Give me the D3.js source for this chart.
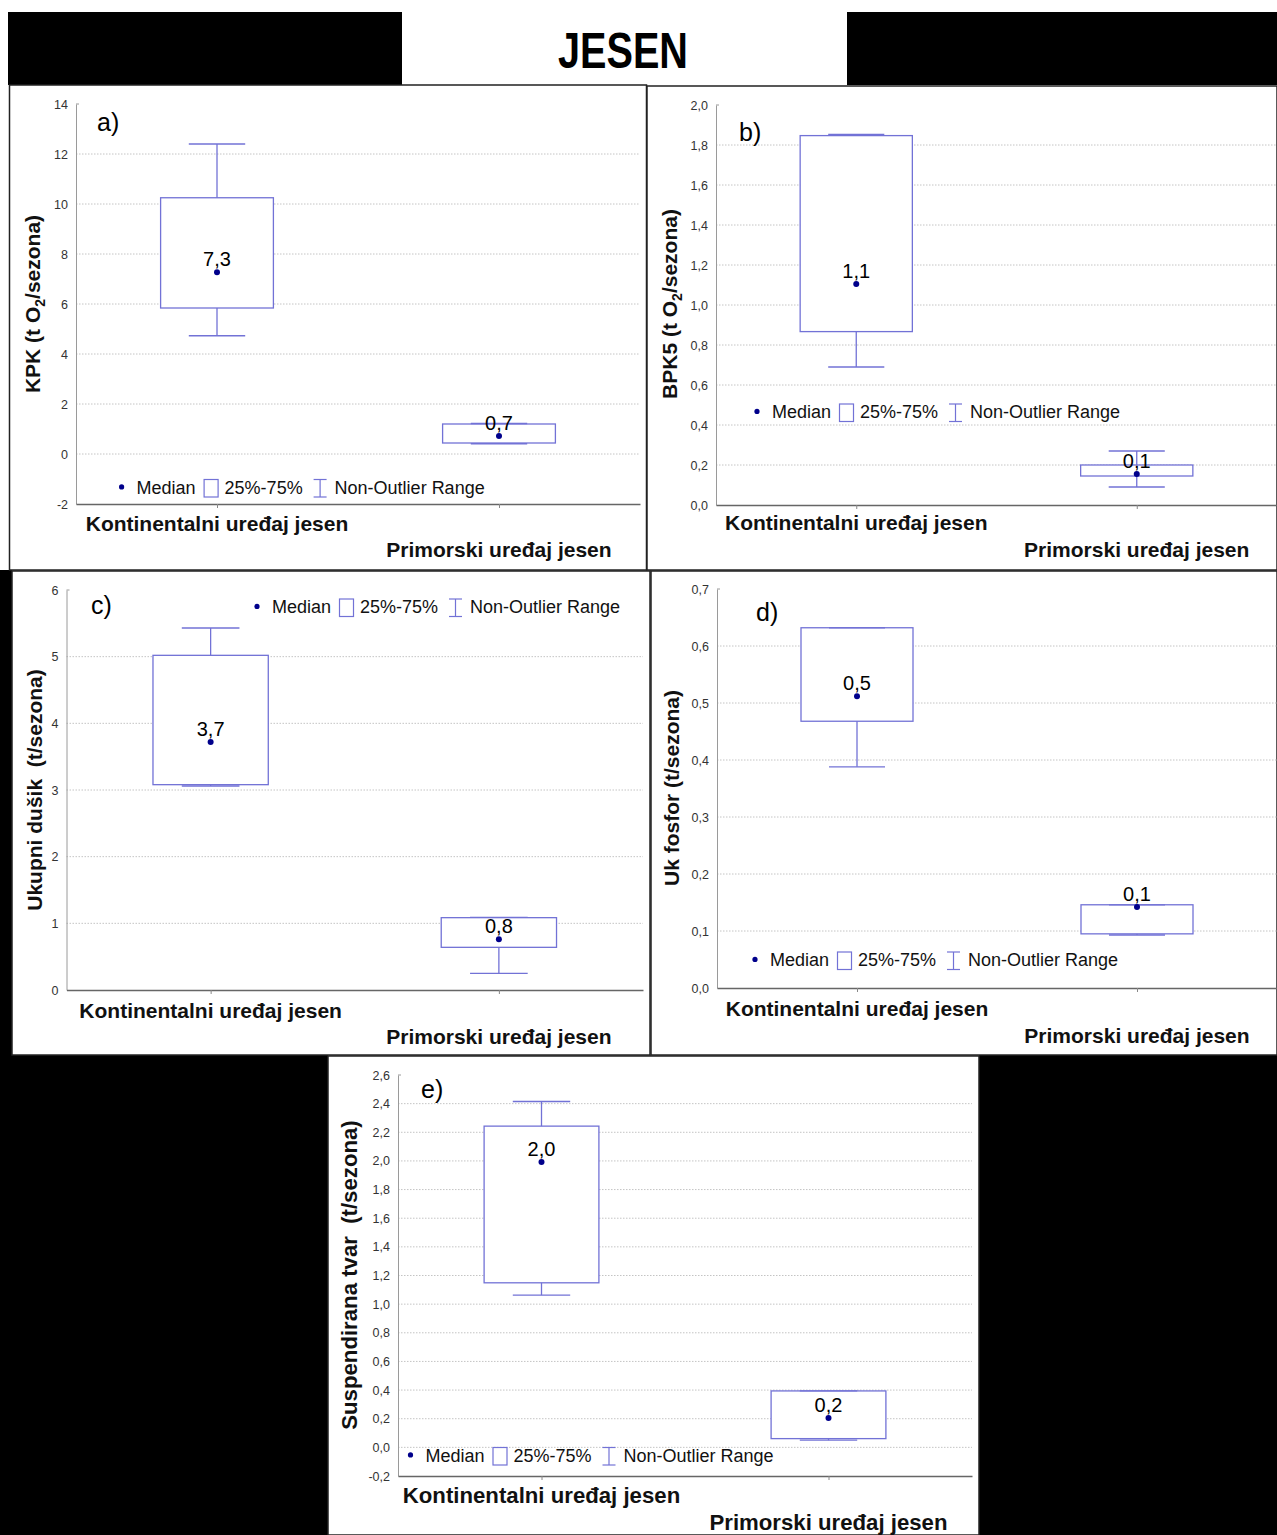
<!DOCTYPE html>
<html><head><meta charset="utf-8">
<script src="https://cdn.jsdelivr.net/npm/d3@7"></script>
<style>
body{margin:0;background:#fff;}
svg{display:block;font-family:"Liberation Sans",Arial,sans-serif;}
text{white-space:pre;}
</style>
</head><body>
<svg id="chart" width="1277" height="1535"></svg>
<script>
// ---------------- DATA ----------------
const titleText = "JESEN";
const categories = ["Kontinentalni uređaj jesen", "Primorski uređaj jesen"];
const panelLetters = ["a)", "b)", "c)", "d)", "e)"];
// y-axis titles: [before subscript, subscript, after subscript]
const yAxisTitles = [
  ["KPK (t O", "2", "/sezona)"],
  ["BPK5 (t O", "2", "/sezona)"],
  ["Ukupni dušik  (t/sezona)", "", ""],
  ["Uk fosfor (t/sezona)", "", ""],
  ["Suspendirana tvar  (t/sezona)", "", ""]
];
const legendLabels = ["Median", "25%-75%", "Non-Outlier Range"];

// per panel, per category [Kontinentalni, Primorski]
const whiskerMin = [[4.73, 0.41], [0.69, 0.09], [3.06, 0.25], [0.388, 0.093], [1.063, 0.05]];
const q1Values   = [[5.84, 0.44], [0.867, 0.145], [3.08, 0.64], [0.468, 0.095], [1.149, 0.061]];
const medians    = [[7.27, 0.72], [1.105, 0.155], [3.72, 0.76], [0.512, 0.142], [1.993, 0.205]];
const q3Values   = [[10.25, 1.2], [1.847, 0.2], [5.02, 1.085], [0.632, 0.146], [2.243, 0.394]];
const whiskerMax = [[12.4, 1.22], [1.853, 0.27], [5.43, 1.09], [0.632, 0.146], [2.415, 0.394]];
const medianLabels = [["7,3", "0,7"], ["1,1", "0,1"], ["3,7", "0,8"], ["0,5", "0,1"], ["2,0", "0,2"]];

const yDomains = [[-2, 14], [0, 2], [0, 6], [0, 0.7], [-0.2, 2.6]];
const yTicks = [
  [-2, 0, 2, 4, 6, 8, 10, 12, 14],
  [0, 0.2, 0.4, 0.6, 0.8, 1.0, 1.2, 1.4, 1.6, 1.8, 2.0],
  [0, 1, 2, 3, 4, 5, 6],
  [0, 0.1, 0.2, 0.3, 0.4, 0.5, 0.6, 0.7],
  [-0.2, 0, 0.2, 0.4, 0.6, 0.8, 1.0, 1.2, 1.4, 1.6, 1.8, 2.0, 2.2, 2.4, 2.6]
];
const yTickLabels = [
  ["-2", "0", "2", "4", "6", "8", "10", "12", "14"],
  ["0,0", "0,2", "0,4", "0,6", "0,8", "1,0", "1,2", "1,4", "1,6", "1,8", "2,0"],
  ["0", "1", "2", "3", "4", "5", "6"],
  ["0,0", "0,1", "0,2", "0,3", "0,4", "0,5", "0,6", "0,7"],
  ["-0,2", "0,0", "0,2", "0,4", "0,6", "0,8", "1,0", "1,2", "1,4", "1,6", "1,8", "2,0", "2,2", "2,4", "2,6"]
];

// ---------------- LAYOUT ----------------
const geom = [
  {box:[9.5,85,637,485],  ax:76,   xr:640,  yr:[504,104],  leg:[121.6,493.5], letter:[97,131],   ylab:[40,304],   cat:[531,557],   fs:21},
  {box:[647,86,630,484],  ax:716,  xr:1277, yr:[505,105],  leg:[757,418],     letter:[739,141],  ylab:[677,304],  cat:[530,557],   fs:21},
  {box:[12,571,638,484],  ax:66.5, xr:643,  yr:[990,590],  leg:[257,613],     letter:[91,614],   ylab:[42,790],   cat:[1018,1044], fs:21},
  {box:[651,571,626,484], ax:717,  xr:1277, yr:[988,589],  leg:[755,966],     letter:[756,621],  ylab:[679,788],  cat:[1016,1043], fs:21},
  {box:[328,1056,651,479],ax:398,  xr:972,  yr:[1476,1075],leg:[410.5,1461.5],letter:[421,1098], ylab:[357,1275], cat:[1503,1530], fs:22.2}
];
const boxColor = "#7272d6";
const medColor = "#00008b";

const svg = d3.select("#chart");

// black background pieces
const blacks = [[8,12,394,73],[847,12,430,73],[0,570,12,486],[0,1055,328,480],[979,1055,298,480]];
svg.selectAll("rect.bg").data(blacks).join("rect").attr("class","bg")
  .attr("x",d=>d[0]).attr("y",d=>d[1]).attr("width",d=>d[2]).attr("height",d=>d[3]).attr("fill","#000");

// title
svg.append("rect").attr("x",402).attr("y",12).attr("width",445).attr("height",72).attr("fill","#fff");
svg.append("text").attr("x",623).attr("y",68).attr("text-anchor","middle")
  .attr("font-size",50).attr("font-weight","bold").attr("textLength",130).attr("lengthAdjust","spacingAndGlyphs")
  .text(titleText);

geom.forEach((g, i) => {
  const gp = svg.append("g");
  gp.append("rect").attr("x",g.box[0]).attr("y",g.box[1]).attr("width",g.box[2]).attr("height",g.box[3])
    .attr("fill","#fff").attr("stroke","#222").attr("stroke-width",1.5);

  const y = d3.scaleLinear().domain(yDomains[i]).range(g.yr);
  const x = d3.scalePoint().domain(categories).range([g.ax, g.xr]).padding(0.5);
  const step = x.step();

  // gridlines
  const inner = yTicks[i].filter(t => t !== yDomains[i][0] && t !== yDomains[i][1]);
  gp.selectAll("line.grid").data(inner).join("line").attr("class","grid")
    .attr("x1",g.ax).attr("x2",g.xr).attr("y1",d=>y(d)).attr("y2",d=>y(d))
    .attr("stroke","#c4c4c4").attr("stroke-width",1).attr("stroke-dasharray","1.5,1.5");

  // y axis
  const yAxis = d3.axisLeft(y).tickValues(yTicks[i]).tickFormat((d,j)=>yTickLabels[i][j]).tickSize(0).tickPadding(8);
  const ya = gp.append("g").attr("transform",`translate(${g.ax},0)`).call(yAxis);
  ya.select(".domain").attr("stroke","#9a9a9a");
  ya.selectAll("text").attr("font-size",12.5).attr("fill","#333").attr("font-family","'Liberation Sans',Arial,sans-serif");
  gp.append("line").attr("x1",g.ax).attr("x2",g.ax+3).attr("y1",g.yr[1]).attr("y2",g.yr[1]).attr("stroke","#9a9a9a");

  // x axis
  const xAxis = d3.axisBottom(x).tickSize(4).tickSizeOuter(0).tickFormat("");
  const xa = gp.append("g").attr("transform",`translate(0,${g.yr[0]})`).call(xAxis);
  xa.select(".domain").attr("stroke","#666").attr("stroke-width",1.3);
  xa.selectAll(".tick line").attr("stroke","#888");

  // category labels
  categories.forEach((c, j) => {
    gp.append("text").attr("x",x(c)).attr("y",g.cat[j]).attr("text-anchor","middle")
      .attr("font-size",g.fs).attr("font-weight","bold").attr("fill","#111").text(c);
  });

  // boxes
  categories.forEach((c, j) => {
    const cx = x(c);
    const bw = step*0.4, cw = step*0.2;
    gp.append("line").attr("x1",cx).attr("x2",cx).attr("y1",y(whiskerMin[i][j])).attr("y2",y(whiskerMax[i][j]))
      .attr("stroke",boxColor).attr("stroke-width",1.3);
    gp.append("rect").attr("x",cx-bw/2).attr("width",bw)
      .attr("y",y(q3Values[i][j])).attr("height",y(q1Values[i][j])-y(q3Values[i][j]))
      .attr("fill","#fff").attr("stroke",boxColor).attr("stroke-width",1.3);
    [whiskerMin[i][j], whiskerMax[i][j]].forEach(v => {
      gp.append("line").attr("x1",cx-cw/2).attr("x2",cx+cw/2).attr("y1",y(v)).attr("y2",y(v))
        .attr("stroke",boxColor).attr("stroke-width",1.3);
    });
    gp.append("circle").attr("cx",cx).attr("cy",y(medians[i][j])).attr("r",3).attr("fill",medColor);
    gp.append("text").attr("x",cx).attr("y",y(medians[i][j])-6).attr("text-anchor","middle")
      .attr("font-size",20).attr("fill","#000").text(medianLabels[i][j]);
  });

  // legend
  const [lx, lb] = g.leg;
  gp.append("circle").attr("cx",lx).attr("cy",lb-6.6).attr("r",2.6).attr("fill",medColor);
  gp.append("text").attr("x",lx+15).attr("y",lb).attr("font-size",18).attr("fill","#111").text(legendLabels[0]);
  gp.append("rect").attr("x",lx+82.5).attr("y",lb-14).attr("width",14).attr("height",17.5)
    .attr("fill","none").attr("stroke",boxColor).attr("stroke-width",1.2);
  gp.append("text").attr("x",lx+103).attr("y",lb).attr("font-size",18).attr("fill","#111").text(legendLabels[1]);
  const wc = lx+198.5;
  gp.append("line").attr("x1",wc).attr("x2",wc).attr("y1",lb-14).attr("y2",lb+3.5).attr("stroke",boxColor).attr("stroke-width",1.2);
  [lb-14, lb+3.5].forEach(yy => gp.append("line").attr("x1",wc-6.5).attr("x2",wc+6.5).attr("y1",yy).attr("y2",yy)
    .attr("stroke",boxColor).attr("stroke-width",1.2));
  gp.append("text").attr("x",lx+213).attr("y",lb).attr("font-size",18).attr("fill","#111").text(legendLabels[2]);

  // panel letter
  gp.append("text").attr("x",g.letter[0]).attr("y",g.letter[1]).attr("font-size",25).attr("fill","#000").text(panelLetters[i]);

  // y axis title
  const t = gp.append("text").attr("transform",`translate(${g.ylab[0]},${g.ylab[1]}) rotate(-90)`)
    .attr("text-anchor","middle").attr("font-size",g.fs).attr("font-weight","bold").attr("fill","#111");
  const parts = yAxisTitles[i];
  t.append("tspan").text(parts[0]);
  if (parts[1]) {
    t.append("tspan").attr("font-size",14).attr("dy",5).text(parts[1]);
    t.append("tspan").attr("dy",-5).text(parts[2]);
  }
});
</script>
</body></html>
